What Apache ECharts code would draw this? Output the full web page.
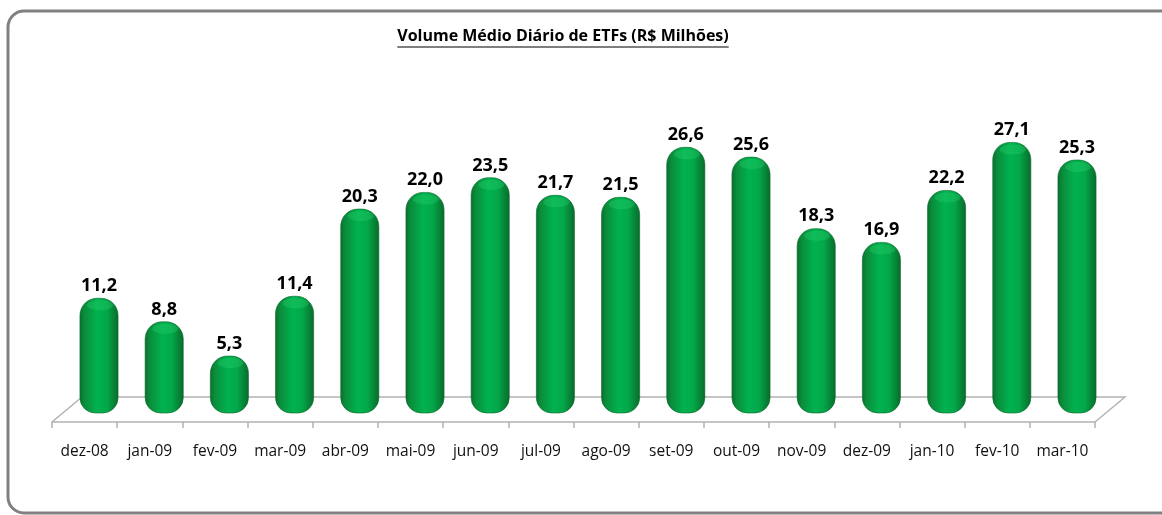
<!DOCTYPE html>
<html>
<head>
<meta charset="utf-8">
<script src="https://cdn.jsdelivr.net/npm/echarts@6/dist/echarts.min.js"></script>
<style>
  html, body { margin: 0; padding: 0; background: #fff; }
  #chart { width: 1162px; height: 515px; }
</style>
</head>
<body>
<div id="chart"></div>
<script>
// months and average daily volume (R$ millions)
var months = ['dez-08', 'jan-09', 'fev-09', 'mar-09', 'abr-09', 'mai-09', 'jun-09', 'jul-09',
              'ago-09', 'set-09', 'out-09', 'nov-09', 'dez-09', 'jan-10', 'fev-10', 'mar-10'];
var volumes = [11.2, 8.8, 5.3, 11.4, 20.3, 22.0, 23.5, 21.7, 21.5, 26.6, 25.6, 18.3, 16.9, 22.2, 27.1, 25.3];
var titleText = 'Volume Médio Diário de ETFs (R$ Milhões)';

var FONT = '"Open Sans", Lato, sans-serif';
var TITLE_FONT = 'bold 16px ' + FONT;

function fmt(v) { return v.toFixed(1).replace('.', ','); }

// width of the title, for the underline
var ctx = document.createElement('canvas').getContext('2d');
ctx.font = TITLE_FONT;
var titleW = ctx.measureText(titleText).width;
var titleX = 563;

var bodyGrad = new echarts.graphic.LinearGradient(0, 0, 1, 0, [
  { offset: 0, color: '#0a6e2e' },
  { offset: 0.12, color: '#0b8c3b' },
  { offset: 0.45, color: '#00b24f' },
  { offset: 0.7, color: '#03a749' },
  { offset: 0.9, color: '#077f35' },
  { offset: 1, color: '#0a6a2c' }
]);

function renderCylinder(params, api) {
  var idx = api.value(0), val = api.value(1);
  var top = api.coord([idx, val]);
  var base = api.coord([idx, 0]);
  var w = api.size([1, 0])[0] * 0.585;
  var x = top[0] - w / 2;
  var h = base[1] - top[1] + 5;
  return {
    type: 'group',
    children: [{
      type: 'rect',
      shape: { x: x, y: top[1], width: w, height: h, r: [w * 0.45, w * 0.45, w * 0.4, w * 0.4] },
      style: { fill: bodyGrad, stroke: '#0a6a2c', lineWidth: 0.6 },
      textContent: {
        style: { text: fmt(val), font: 'bold 18px ' + FONT, fill: '#000' }
      },
      textConfig: { position: 'top', distance: 3 }
    }, {
      type: 'ellipse',
      shape: { cx: top[0] + 1, cy: top[1] + 7, rx: w * 0.34, ry: 5 },
      style: { fill: 'rgba(40,210,110,0.35)' },
      silent: true
    }]
  };
}

var chart = echarts.init(document.getElementById('chart'));
chart.setOption({
  animation: false,
  grid: [
    { left: 66.4, right: 52.4, top: 114, bottom: 107 },   // bars (back plane)
    { left: 52, right: 67, top: 114, bottom: 93 }          // front axis
  ],
  xAxis: [{
    gridIndex: 0, type: 'category', data: months,
    axisLine: { show: false }, axisTick: { show: false }, axisLabel: { show: false }
  }, {
    gridIndex: 1, type: 'category', data: months, boundaryGap: true,
    axisLine: { show: true, lineStyle: { color: '#b3b3b3', width: 1.5 } },
    axisTick: { show: true, interval: 0, length: 6, lineStyle: { color: '#b3b3b3', width: 1.5 } },
    axisLabel: { interval: 0, color: '#111', fontFamily: FONT, fontSize: 15.5, margin: 22 }
  }],
  yAxis: [{
    gridIndex: 0, type: 'value', min: 0, max: 30, show: false, splitLine: { show: false }
  }, {
    gridIndex: 1, type: 'value', min: 0, max: 30, show: false, splitLine: { show: false }
  }],
  graphic: [{
    type: 'rect', silent: true, z: -1,
    shape: { x: 8, y: 11, width: 1200, height: 502, r: 16 },
    style: { fill: 'none', stroke: '#808080', lineWidth: 3 }
  }, {
    type: 'polyline', silent: true, z: -1,
    shape: { points: [[52, 422], [82, 397], [1125, 397], [1095, 422]] },
    style: { fill: 'none', stroke: '#b3b3b3', lineWidth: 1.5 }
  }, {
    type: 'text', x: titleX, y: 28, silent: true,
    style: { text: titleText, font: TITLE_FONT, fill: '#000', align: 'center' }
  }, {
    type: 'line', silent: true,
    shape: { x1: titleX - titleW / 2, y1: 47, x2: titleX + titleW / 2, y2: 47 },
    style: { stroke: '#000', lineWidth: 1.2 }
  }],
  series: [{
    type: 'custom',
    xAxisIndex: 0, yAxisIndex: 0,
    renderItem: renderCylinder,
    data: volumes.map(function (v, i) { return [i, v]; })
  }]
});
</script>
</body>
</html>
